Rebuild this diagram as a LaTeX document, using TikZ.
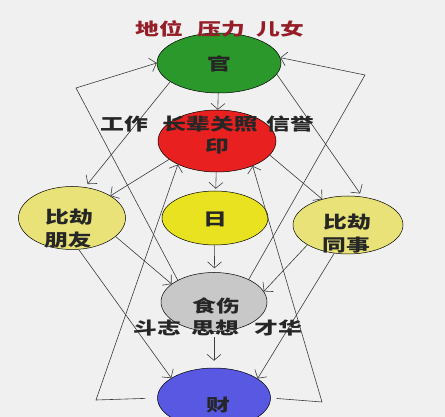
\documentclass[tikz,border=0pt]{standalone}
\usepackage{fontspec}
\usetikzlibrary{arrows.meta,shapes.geometric}
\newfontfamily\cjk[FakeStretch=1.4]{Noto Sans CJK SC}
\definecolor{bgc}{RGB}{240,240,240}
\definecolor{gfill}{RGB}{42,152,42}
\definecolor{rfill}{RGB}{232,32,32}
\definecolor{yfill}{RGB}{232,226,32}
\definecolor{pfill}{RGB}{232,226,120}
\definecolor{sfill}{RGB}{200,200,200}
\definecolor{cfill}{RGB}{88,88,226}
\definecolor{toptxt}{RGB}{150,30,40}
\definecolor{lnc}{RGB}{60,60,60}
\tikzset{
  conn/.style={draw=lnc, line width=0.6pt, -{Straight Barb[length=6pt,width=14pt]}},
  bub/.style={ellipse, draw=black, line width=0.5pt, inner sep=0pt},
  lbl/.style={font={\cjk\bfseries\fontsize{17}{19}\selectfont}, text=black!85, inner sep=0pt},
  toplbl/.style={lbl, text=toptxt},
}
\begin{document}
\begin{tikzpicture}[x=1pt,y=-1pt]
\useasboundingbox (0,0) rectangle (445,417);
\fill[bgc] (0,0) rectangle (445,417);
\clip (0,0) rectangle (445,417);
% ellipses
\node[bub, fill=gfill, minimum width=124pt, minimum height=60pt] (g) at (219,63) {};
\node[bub, fill=rfill, minimum width=118pt, minimum height=62pt] (r) at (217,141) {};
\node[bub, fill=yfill, minimum width=106pt, minimum height=54pt] (y) at (215,218) {};
\node[bub, fill=pfill, minimum width=107pt, minimum height=63pt] (lf) at (72,218) {};
\node[bub, fill=pfill, minimum width=110pt, minimum height=58pt] (rt) at (348,225) {};
\node[bub, fill=sfill, minimum width=106pt, minimum height=59pt] (s) at (214,302) {};
\node[bub, fill=cfill, minimum width=113pt, minimum height=60pt] (c) at (214,398) {};
% corner points
\coordinate (L1) at (76,88);
\coordinate (L2) at (96,400);
\coordinate (R1) at (365,75);
\coordinate (R2) at (322,402);
% vertical chain
\draw[conn] (g) -- (r);
\draw[conn, shorten >=2pt] (r) -- (y);
\draw[conn, shorten >=4pt] (y) -- (s);
\draw[conn, shorten <=5pt, shorten >=7pt] (s) -- (c);
% left side
\draw[conn, shorten >=4pt] (g.201) -- (lf.67);
\draw[conn] (r.201) -- (lf.30);
\draw[conn] (lf.337) -- (s.157);
\draw[conn] (lf.282) -- (c.155);
\draw[conn] (s.149) -- (L1) -- (g.west);
\draw[conn, shorten <=12pt] (c.west) -- (L2) -- (r.211);
% right side
\draw[conn, shorten >=4pt] (g.349) -- (rt.63);
\draw[conn] (r.345) -- (rt.135);
\draw[conn] (s.33) -- (R1) -- (g.5);
\draw[conn, shorten <=6pt] (c.east) -- (R2) -- (r.325);
\draw[conn] (rt.206) -- (s.12);
\draw[conn] (rt.244) -- (c.24);
% labels inside ellipses
\node[lbl] (tg) at (219,64) {官};
\node[lbl] (tr) at (217,146) {印};
\node[lbl] (ty) at (215,219) {日};
\node[lbl] (tl1) at (69,217) {比劫};
\node[lbl] (tl2) at (68,240) {朋友};
\node[lbl] (tr1) at (347,222) {比劫};
\node[lbl] (tr2) at (346,245) {同事};
\node[lbl] (ts) at (216,306) {食伤};
\node[lbl] (tc) at (218,405) {财};
% outer labels
\node[toplbl] (a1) at (159,29) {地位};
\node[toplbl] (a2) at (221,29) {压力};
\node[toplbl] (a3) at (280,29) {儿女};
\node[lbl] (b1) at (124,124) {工作};
\node[lbl] (b2) at (210,124) {长辈关照};
\node[lbl] (b3) at (290,124) {信誉};
\node[lbl] (d1) at (157,328) {斗志};
\node[lbl] (d2) at (215,328) {思想};
\node[lbl] (d3) at (278,328) {才华};
\end{tikzpicture}
\end{document}
